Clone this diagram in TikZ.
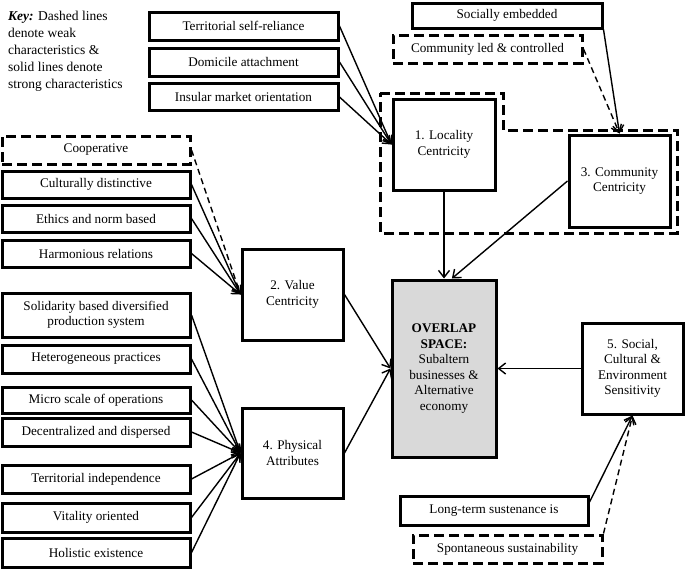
\documentclass[tikz,border=0pt]{standalone}
\usepackage{fontspec}
\setmainfont{Liberation Serif}
\usetikzlibrary{arrows.meta,calc}
\begin{document}
\begin{tikzpicture}[x=1pt,y=-1pt,
  every node/.style={font=\fontsize{13.2}{15.5}\selectfont},
  box/.style={draw, line width=3pt, inner sep=0pt, align=center},
  dbox/.style={box, dash pattern=on 10pt off 5pt},
  conn/.style={line width=1.4pt, -{Straight Barb[length=7pt,width=11pt,line width=1.4pt]}},
  dconn/.style={conn, dash pattern=on 6pt off 4pt},
  region/.style={line width=3pt, dash pattern=on 10pt off 5pt}
]
\useasboundingbox (0,0) rectangle (685,568);

% dashed region around locality & community
\draw[region] (380,93) -- (503,93) -- (503,130) -- (677,130) -- (677,233) -- (380,233) -- cycle;

% key
\node[anchor=north west, align=left, inner sep=0pt, font=\fontsize{13.5}{17}\selectfont] (key) at (8,11)
  {\textbf{\textit{Key:}} Dashed lines\\denote weak\\characteristics \&\\solid lines denote\\strong characteristics};

% top boxes
\node[box, minimum width=189pt, minimum height=28pt] (terr) at (243.5,26) {Territorial self-reliance};
\node[box, minimum width=189pt, minimum height=28pt] (domi) at (243.5,62) {Domicile attachment};
\node[box, minimum width=189pt, minimum height=27pt] (insu) at (243.5,97) {Insular market orientation};
\node[box, minimum width=190pt, minimum height=25pt] (soc) at (507,15.5) {Socially embedded};
\node[dbox, minimum width=189pt, minimum height=28pt] (coml) at (487.5,49) {Community led \& controlled};

% centricity boxes
\node[box, minimum width=102pt, minimum height=91pt] (loc) at (444,144.5) {1. Locality\\Centricity};
\node[box, minimum width=101pt, minimum height=92pt] (comc) at (619.5,181) {3. Community\\Centricity};

% left column
\node[dbox, minimum width=188pt, minimum height=28pt] (coop) at (96,150) {Cooperative};
\node[box, minimum width=188pt, minimum height=27pt] (cult) at (96,184.5) {Culturally distinctive};
\node[box, minimum width=188pt, minimum height=27pt] (ethi) at (96,218.5) {Ethics and norm based};
\node[box, minimum width=188pt, minimum height=27pt] (harm) at (96,253.5) {Harmonious relations};
\node[box, minimum width=188pt, minimum height=44pt] (soli) at (96,315) {Solidarity based diversified\\production system};
\node[box, minimum width=188pt, minimum height=28pt] (hete) at (96,359) {Heterogeneous practices};
\node[box, minimum width=188pt, minimum height=26pt] (micr) at (96,400) {Micro scale of operations};
\node[box, minimum width=188pt, minimum height=28pt] (dece) at (96,432) {Decentralized and dispersed};
\node[box, minimum width=188pt, minimum height=28pt] (tind) at (96,479) {Territorial independence};
\node[box, minimum width=188pt, minimum height=29pt] (vita) at (96,517.5) {Vitality oriented};
\node[box, minimum width=188pt, minimum height=29pt] (holi) at (96,552.5) {Holistic existence};

% middle boxes
\node[box, minimum width=101pt, minimum height=91pt] (val) at (292.5,294.5) {2. Value\\Centricity};
\node[box, minimum width=101pt, minimum height=90pt] (phy) at (292.5,453) {4. Physical\\Attributes};
\node[box, fill=gray!30, minimum width=104pt, minimum height=177pt] (ovl) at (444,368.5)
  {\textbf{OVERLAP}\\\textbf{SPACE:}\\Subaltern\\businesses \&\\Alternative\\economy};
\node[box, minimum width=101pt, minimum height=91pt] (ssen) at (632.5,368.5) {5. Social,\\Cultural \&\\Environment\\Sensitivity};
\node[box, minimum width=188pt, minimum height=29pt] (long) at (494,510.5) {Long-term sustenance is};
\node[dbox, minimum width=189pt, minimum height=28pt] (spon) at (507.5,549) {Spontaneous sustainability};

% connectors to locality
\draw[conn] (terr.east) -- (loc.west);
\draw[conn] (domi.east) -- (loc.west);
\draw[conn] (insu.east) -- (loc.west);
% connectors to community
\draw[conn] (soc.south east) -- (comc.north);
\draw[dconn] (coml.east) -- (comc.north);
% to overlap
\draw[conn] (loc.south) -- (ovl.north);
\draw[conn] (comc.west) -- (ovl.85);
\draw[conn] (val.east) -- (ovl.west);
\draw[conn] (phy.east) -- (ovl.west);
\draw[conn] (ssen.west) -- (ovl.east);
% to value
\draw[dconn] (coop.east) -- (val.west);
\draw[conn] (cult.east) -- (val.west);
\draw[conn] (ethi.east) -- (val.west);
\draw[conn] (harm.east) -- (val.west);
% to physical
\foreach \n in {soli,hete,micr,dece,tind,vita,holi}
  \draw[conn] (\n.east) -- (phy.west);
% to social sensitivity
\draw[conn] (long.5) -- (ssen.south);
\draw[dconn] (spon.north east) -- (ssen.south);
\end{tikzpicture}
\end{document}
